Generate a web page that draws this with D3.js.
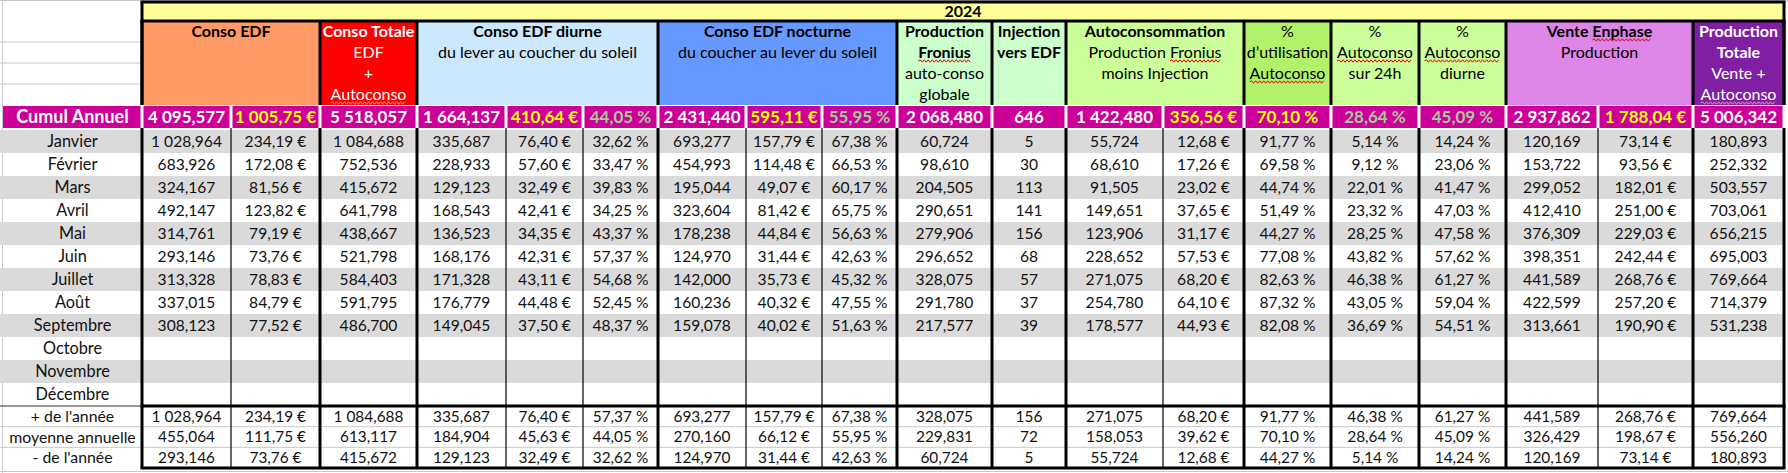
<!DOCTYPE html>
<html>
<head>
<meta charset="utf-8">
<script src="https://cdn.jsdelivr.net/npm/d3@7"></script>
<style>
  html, body { margin: 0; padding: 0; background: #fff; }
  svg { display: block; font-family: Lato, "Open Sans", sans-serif; }
</style>
</head>
<body>
<div id="chart"></div>
<script>
// ---- data (read from the sheet) ----
var year = "2024";
var months = ["Janvier", "Février", "Mars", "Avril", "Mai", "Juin", "Juillet", "Août",
              "Septembre", "Octobre", "Novembre", "Décembre"];
var statLabels = ["+ de l'année", "moyenne annuelle", "- de l'année"];
var cumulLabel = "Cumul Annuel";

var consoEdfKwh   = [1028.964, 683.926, 324.167, 492.147, 314.761, 293.146, 313.328, 337.015, 308.123];
var consoEdfEur   = [234.19, 172.08, 81.56, 123.82, 79.19, 73.76, 78.83, 84.79, 77.52];
var consoTotale   = [1084.688, 752.536, 415.672, 641.798, 438.667, 521.798, 584.403, 591.795, 486.700];
var diurneKwh     = [335.687, 228.933, 129.123, 168.543, 136.523, 168.176, 171.328, 176.779, 149.045];
var diurneEur     = [76.40, 57.60, 32.49, 42.41, 34.35, 42.31, 43.11, 44.48, 37.50];
var diurnePct     = [32.62, 33.47, 39.83, 34.25, 43.37, 57.37, 54.68, 52.45, 48.37];
var nocturneKwh   = [693.277, 454.993, 195.044, 323.604, 178.238, 124.970, 142.000, 160.236, 159.078];
var nocturneEur   = [157.79, 114.48, 49.07, 81.42, 44.84, 31.44, 35.73, 40.32, 40.02];
var nocturnePct   = [67.38, 66.53, 60.17, 65.75, 56.63, 42.63, 45.32, 47.55, 51.63];
var fronius       = [60.724, 98.610, 204.505, 290.651, 279.906, 296.652, 328.075, 291.780, 217.577];
var injection     = [5, 30, 113, 141, 156, 68, 57, 37, 39];
var autoconsoKwh  = [55.724, 68.610, 91.505, 149.651, 123.906, 228.652, 271.075, 254.780, 178.577];
var autoconsoEur  = [12.68, 17.26, 23.02, 37.65, 31.17, 57.53, 68.20, 64.10, 44.93];
var pctUtil       = [91.77, 69.58, 44.74, 51.49, 44.27, 77.08, 82.63, 87.32, 82.08];
var pct24h        = [5.14, 9.12, 22.01, 23.32, 28.25, 43.82, 46.38, 43.05, 36.69];
var pctDiurne     = [14.24, 23.06, 41.47, 47.03, 47.58, 57.62, 61.27, 59.04, 54.51];
var venteKwh      = [120.169, 153.722, 299.052, 412.410, 376.309, 398.351, 441.589, 422.599, 313.661];
var venteEur      = [73.14, 93.56, 182.01, 251.00, 229.03, 242.44, 268.76, 257.20, 190.90];
var prodTotale    = [180.893, 252.332, 503.557, 703.061, 656.215, 695.003, 769.664, 714.379, 531.238];

var cumul   = [4095.577, 1005.75, 5518.057, 1664.137, 410.64, 44.05, 2431.440, 595.11, 55.95, 2068.480, 646,
               1422.480, 356.56, 70.10, 28.64, 45.09, 2937.862, 1788.04, 5006.342];
var maxRow  = [1028.964, 234.19, 1084.688, 335.687, 76.40, 57.37, 693.277, 157.79, 67.38, 328.075, 156,
               271.075, 68.20, 91.77, 46.38, 61.27, 441.589, 268.76, 769.664];
var meanRow = [455.064, 111.75, 613.117, 184.904, 45.63, 44.05, 270.160, 66.12, 55.95, 229.831, 72,
               158.053, 39.62, 70.10, 28.64, 45.09, 326.429, 198.67, 556.260];
var minRow  = [293.146, 73.76, 415.672, 129.123, 32.49, 32.62, 124.970, 31.44, 42.63, 60.724, 5,
               55.724, 12.68, 44.27, 5.14, 14.24, 120.169, 73.14, 180.893];

var columns = [
  {values: consoEdfKwh, type: "kwh"}, {values: consoEdfEur, type: "eur"},
  {values: consoTotale, type: "kwh"},
  {values: diurneKwh, type: "kwh"}, {values: diurneEur, type: "eur"}, {values: diurnePct, type: "pct"},
  {values: nocturneKwh, type: "kwh"}, {values: nocturneEur, type: "eur"}, {values: nocturnePct, type: "pct"},
  {values: fronius, type: "kwh"}, {values: injection, type: "int"},
  {values: autoconsoKwh, type: "kwh"}, {values: autoconsoEur, type: "eur"},
  {values: pctUtil, type: "pct", hot: true}, {values: pct24h, type: "pct"}, {values: pctDiurne, type: "pct"},
  {values: venteKwh, type: "kwh"}, {values: venteEur, type: "eur"},
  {values: prodTotale, type: "kwh"}
];

// header blocks: [first col, last col + 1], lines = [text, bold, word with spell mark]
var headers = [
  {c: [1, 3],  fill: "#FF9966", color: "#000", lines: [["Conso EDF", 1]]},
  {c: [3, 4],  fill: "#FF0000", color: "#fff", lines: [["Conso Totale", 1], ["EDF", 0], ["+", 0], ["Autoconso", 0, "Autoconso"]]},
  {c: [4, 7],  fill: "#CCE8FC", color: "#000", lines: [["Conso EDF diurne", 1], ["du lever au coucher du soleil", 0]]},
  {c: [7, 10], fill: "#6699FF", color: "#000", lines: [["Conso EDF nocturne", 1], ["du coucher au lever du soleil", 0]]},
  {c: [10, 11], fill: "#CCFFCC", color: "#000", lines: [["Production", 1], ["Fronius", 1, "Fronius"], ["auto-conso", 0], ["globale", 0]]},
  {c: [11, 12], fill: "#CCFFCC", color: "#000", lines: [["Injection", 1], ["vers EDF", 1]]},
  {c: [12, 14], fill: "#CCFF99", color: "#000", lines: [["Autoconsommation", 1], ["Production Fronius", 0, "Fronius"], ["moins Injection", 0]]},
  {c: [14, 15], fill: "#B2F26A", color: "#000", lines: [["%", 0], ["d\u2019utilisation", 0], ["Autoconso", 0, "Autoconso"]]},
  {c: [15, 16], fill: "#CCFF99", color: "#000", lines: [["%", 0], ["Autoconso", 0, "Autoconso"], ["sur 24h", 0]]},
  {c: [16, 17], fill: "#CCFF99", color: "#000", lines: [["%", 0], ["Autoconso", 0, "Autoconso"], ["diurne", 0]]},
  {c: [17, 19], fill: "#DD86E8", color: "#000", lines: [["Vente Enphase", 1, "Enphase"], ["Production", 0]]},
  {c: [19, 20], fill: "#801FA3", color: "#fff", lines: [["Production", 1], ["Totale", 1], ["Vente +", 0], ["Autoconso", 0, "Autoconso"]]}
];

// ---- layout ----
var W = 1788, H = 473;
var colEdges = [3, 142, 231, 320, 417, 506, 583, 658, 746, 822, 897, 992, 1066, 1163, 1244, 1331, 1419, 1506, 1598, 1693, 1784];
var thickEdges = [1, 3, 4, 7, 10, 11, 12, 14, 15, 16, 17, 19, 20];
var left = colEdges[1], right = colEdges[20];

var x = d3.scaleOrdinal().domain(d3.range(colEdges.length)).range(colEdges);
var yHead = d3.scaleLinear().domain([0, 4]).range([21, 105]);
var yMonth = d3.scaleLinear().domain([0, 12]).range([130, 406]);
var yStat = d3.scaleLinear().domain([0, 3]).range([406, 468]);
function cx(i) { return (x(i) + x(i + 1)) / 2; }

var fr = d3.formatLocale({decimal: ",", thousands: "\u00a0", grouping: [3], currency: ["", ""]});
var fmt = {
  kwh: fr.format(",.3f"),
  eur: function(v) { return fr.format(",.2f")(v) + "\u00a0€"; },
  pct: function(v) { return fr.format(".2f")(v) + "\u00a0%"; },
  int: fr.format("d")
};

var svg = d3.select("#chart").append("svg")
    .attr("width", W)
    .attr("height", H);

svg.append("rect").attr("width", W).attr("height", H).attr("fill", "#fff");

// sheet grid in the margin
var grid = svg.append("g").attr("stroke", "#c8c8c8").attr("stroke-width", 1);
[0.5].concat(d3.range(1, 4).map(yHead)).forEach(function(y) {
  grid.append("line").attr("x1", 0).attr("x2", left).attr("y1", y).attr("y2", y);
});
grid.append("line").attr("x1", left).attr("x2", W).attr("y1", 0.5).attr("y2", 0.5);
grid.append("line").attr("x1", 2.5).attr("x2", 2.5).attr("y1", 0).attr("y2", H);
[yStat(1), yStat(2)].forEach(function(y) {
  grid.append("line").attr("x1", 0).attr("x2", right).attr("y1", y).attr("y2", y);
});
grid.append("line").attr("x1", 0).attr("x2", W).attr("y1", H - 1.5).attr("y2", H - 1.5);

// year row
svg.append("rect").attr("x", left).attr("y", 2).attr("width", right - left).attr("height", yHead(0) - 2)
    .attr("fill", "#FFFF99");
svg.append("text").attr("x", (left + right) / 2).attr("y", 11.5).attr("dy", "0.35em")
    .attr("text-anchor", "middle").attr("font-weight", "bold").attr("font-size", 16).text(year);

// header blocks
function squiggle(g, x0, x1, y, color) {
  var d = "M" + x0 + "," + y, up = true;
  for (var px = x0 + 2; px <= x1; px += 2) { d += "L" + px + "," + (y + (up ? -1.2 : 1.2)); up = !up; }
  g.append("path").attr("d", d).attr("fill", "none").attr("stroke", color).attr("stroke-width", 1);
}

var head = svg.append("g");
headers.forEach(function(h) {
  var x0 = x(h.c[0]), x1 = x(h.c[1]);
  head.append("rect").attr("x", x0).attr("y", yHead(0)).attr("width", x1 - x0).attr("height", yHead(4) - yHead(0))
      .attr("fill", h.fill);
  h.lines.forEach(function(l, i) {
    var yc = (yHead(i) + yHead(i + 1)) / 2;
    var t = head.append("text").attr("x", (x0 + x1) / 2).attr("y", yc).attr("dy", "0.35em")
        .attr("text-anchor", "middle").attr("font-size", 16)
        .attr("font-weight", l[1] ? "bold" : "normal").attr("fill", h.color).text(l[0]);
    if (l[2]) {
      var node = t.node(), k = l[0].indexOf(l[2]);
      var sx = node.getStartPositionOfChar(k).x, ex = node.getEndPositionOfChar(k + l[2].length - 1).x;
      squiggle(head, sx, ex, yc + 8.5, h.color === "#fff" ? "#ff9a9a" : "#e00000");
    }
  });
});

// cumul row
var cum = svg.append("g");
var cy0 = 106, cy1 = 128;
cum.append("rect").attr("x", x(0)).attr("y", cy0).attr("width", x(1) - x(0) - 1.5).attr("height", cy1 - cy0)
    .attr("fill", "#CC0099");
cum.append("text").attr("x", cx(0)).attr("y", (cy0 + cy1) / 2).attr("dy", "0.36em").attr("text-anchor", "middle")
    .attr("font-size", 18).attr("font-weight", "bold").attr("fill", "#fff").text(cumulLabel);
cum.selectAll("rect.c").data(cumul).enter().append("rect").attr("class", "c")
    .attr("x", function(d, i) { return x(i + 1) + 1.5; })
    .attr("y", cy0)
    .attr("width", function(d, i) { return x(i + 2) - x(i + 1) - 3; })
    .attr("height", cy1 - cy0)
    .attr("fill", "#CC0099");
cum.selectAll("text.c").data(cumul).enter().append("text").attr("class", "c")
    .attr("x", function(d, i) { return cx(i + 1); })
    .attr("y", (cy0 + cy1) / 2).attr("dy", "0.36em").attr("text-anchor", "middle")
    .attr("font-size", 17).attr("font-weight", "bold")
    .attr("fill", function(d, i) {
      var c = columns[i];
      if (c.type === "eur" || c.hot) return "#FFFF00";
      if (c.type === "pct") return "#A9C99C";
      return "#fff";
    })
    .text(function(d, i) { return fmt[columns[i].type](d); });

// month rows
var body = svg.append("g");
body.selectAll("rect.band").data(months).enter().filter(function(d, i) { return i % 2 === 0; })
    .append("rect").attr("class", "band")
    .attr("x", 0).attr("width", right)
    .attr("y", function(d) { return yMonth(months.indexOf(d)); })
    .attr("height", yMonth(1) - yMonth(0))
    .attr("fill", "#DADADA");
body.selectAll("text.m").data(months).enter().append("text").attr("class", "m")
    .attr("x", cx(0)).attr("y", function(d, i) { return (yMonth(i) + yMonth(i + 1)) / 2; })
    .attr("dy", "0.35em").attr("text-anchor", "middle").attr("font-size", 16.3).attr("fill", "#111").text(function(d) { return d; });
columns.forEach(function(c, j) {
  body.selectAll(null).data(c.values).enter().append("text")
      .attr("x", cx(j + 1))
      .attr("y", function(d, i) { return (yMonth(i) + yMonth(i + 1)) / 2; })
      .attr("dy", "0.35em").attr("text-anchor", "middle").attr("font-size", 15.6).attr("fill", "#111")
      .text(function(d) { return fmt[c.type](d); });
});

// stats rows
var stats = svg.append("g");
[maxRow, meanRow, minRow].forEach(function(row, r) {
  var yc = (yStat(r) + yStat(r + 1)) / 2;
  stats.append("text").attr("x", cx(0)).attr("y", yc).attr("dy", "0.35em").attr("text-anchor", "middle")
      .attr("font-size", 15.8).attr("fill", "#111").text(statLabels[r]);
  stats.selectAll(null).data(row).enter().append("text")
      .attr("x", function(d, i) { return cx(i + 1); })
      .attr("y", yc).attr("dy", "0.35em").attr("text-anchor", "middle").attr("font-size", 15.4).attr("fill", "#111")
      .text(function(d, i) { return fmt[columns[i].type](d); });
});

// borders
var bor = svg.append("g").attr("stroke", "#000");
function line(x1, y1, x2, y2, w) {
  bor.append("line").attr("x1", x1).attr("y1", y1).attr("x2", x2).attr("y2", y2).attr("stroke-width", w);
}
line(left - 1.5, 2, right + 1.5, 2, 3);
line(left - 1.5, yHead(0), right + 1.5, yHead(0), 3);
line(left, 2, left, yHead(4), 3);
line(right, 2, right, yHead(4), 3);
thickEdges.forEach(function(e) { line(x(e), yHead(0), x(e), yHead(4), 3); });
d3.range(1, 21).forEach(function(e) {
  var thick = thickEdges.indexOf(e) >= 0;
  line(x(e), cy1, x(e), yStat(3), thick ? 3 : 1.2);
});
line(left - 1.5, yStat(0), right + 1.5, yStat(0), 3);
line(left - 1.5, yStat(3), right + 1.5, yStat(3), 3);
bor.append("line").attr("x1", 0).attr("x2", left).attr("y1", yStat(0)).attr("y2", yStat(0))
    .attr("stroke-width", 1.2).attr("stroke", "#333");
</script>
</body>
</html>
